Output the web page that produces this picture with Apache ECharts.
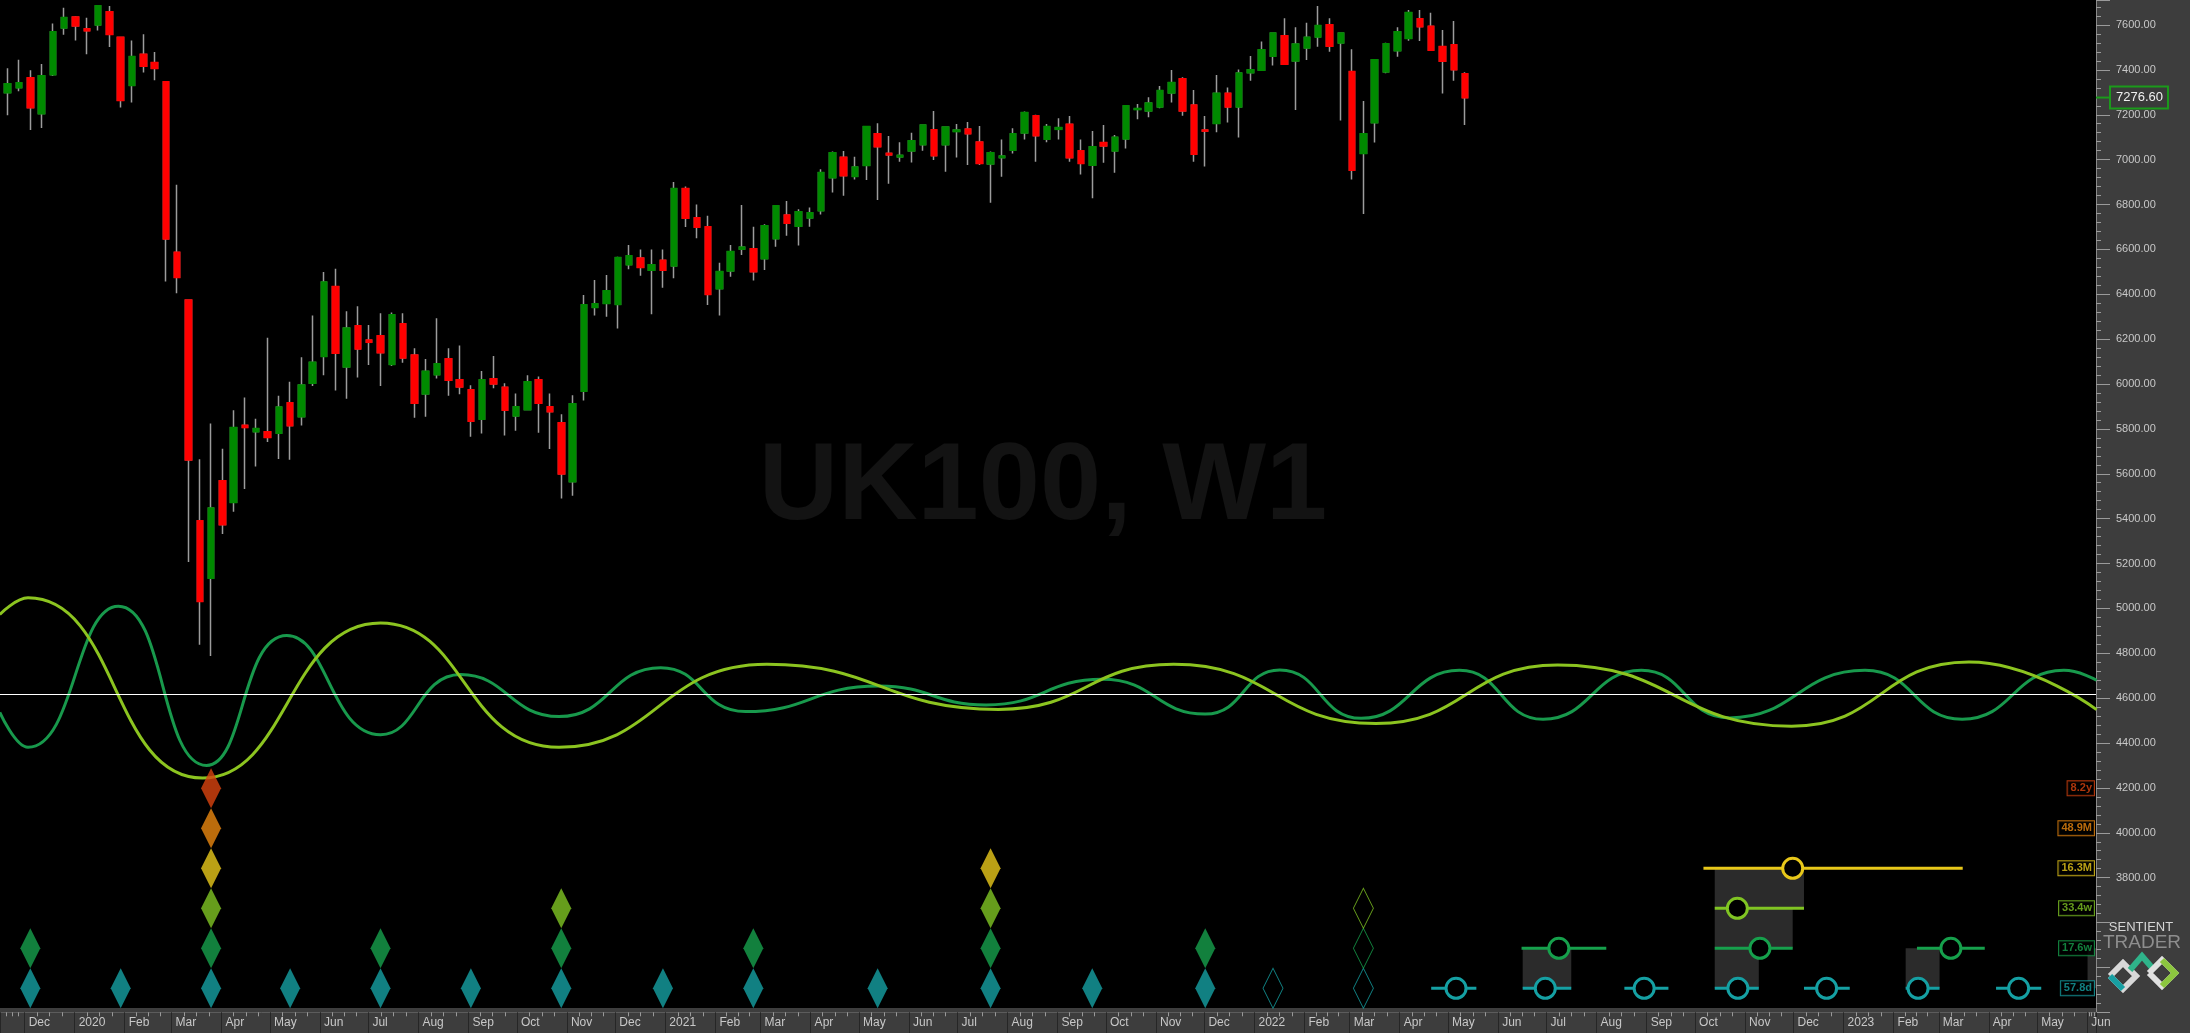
<!DOCTYPE html>
<html><head><meta charset="utf-8">
<script src="https://cdn.jsdelivr.net/npm/echarts@6/dist/echarts.min.js"></script>
<style>html,body{margin:0;padding:0;background:#000;}#c{width:2190px;height:1033px;}</style>
</head><body><div id="c"></div>
<script>
// ---------- DATA ----------
const firstWeek = [2019, 10, 17]; // first weekly bar (week starting Sun 17 Nov 2019)
const opens = [7299,7322,7364,7206,7379,7588,7635,7582,7601,7658,
7544,7331,7468,7432,7346,6586,6373,5389,5136,5568,
5473,5815,5788,5786,5782,5915,5855,6005,6124,6434,
6077,6258,6195,6214,6088,6267,6128,5957,6042,6111,
6018,5973,5844,6022,5984,5859,5886,6018,5898,5826,
5565,5969,6342,6360,6355,6533,6560,6508,6550,6527,
6870,6740,6700,6426,6505,6602,6602,6559,6648,6752,
6704,6741,6773,6920,7010,6926,6975,7114,7027,7013,
7040,7067,7132,7067,7126,7135,7077,6982,7010,7043,
7120,7194,7092,7136,7156,7038,6976,7075,7040,7093,
7224,7218,7236,7298,7359,7242,7131,7162,7295,7236,
7388,7399,7462,7551,7441,7499,7548,7600,7521,7392,
7028,7165,7392,7486,7541,7627,7593,7503,7511,7382];
const highs = [7407,7445,7398,7426,7607,7677,7639,7632,7689,7685,
7544,7531,7559,7480,7346,6888,6373,5665,5824,5712,
5883,5940,5845,6206,5948,6010,6119,6305,6499,6514,
6324,6347,6263,6315,6319,6315,6159,6111,6293,6159,
6172,5994,6058,6125,6003,5958,6039,6033,5958,5865,
5950,6397,6463,6486,6567,6620,6600,6600,6600,6900,
6880,6800,6750,6540,6620,6798,6701,6712,6798,6816,
6779,6787,6957,7036,7038,7013,7150,7162,7105,7077,
7120,7154,7217,7144,7159,7168,7150,7036,7090,7140,
7214,7200,7159,7184,7194,7090,7128,7154,7110,7243,
7248,7278,7328,7399,7367,7310,7194,7377,7322,7402,
7462,7527,7567,7630,7590,7610,7685,7630,7566,7492,
7261,7447,7521,7590,7667,7667,7655,7578,7618,7389];
const lows = [7198,7305,7132,7141,7373,7556,7531,7470,7575,7502,
7232,7255,7388,7354,6457,6404,5207,4838,4788,5332,
5431,5532,5632,5742,5666,5663,5815,5991,6039,5971,
5934,6029,6085,5991,6080,6095,5850,5854,6025,5948,
5954,5765,5780,5981,5771,5792,5884,5783,5710,5490,
5502,5926,6305,6300,6247,6511,6483,6311,6429,6471,
6700,6650,6352,6305,6478,6575,6461,6508,6612,6661,
6617,6701,6755,6853,6839,6911,6909,6820,6893,6991,
6987,7040,6998,6946,7009,6976,6976,6808,6924,7027,
7090,6991,7077,7090,6991,6934,6828,6986,6942,7050,
7180,7189,7229,7255,7196,6991,6969,7122,7165,7099,
7352,7396,7419,7425,7221,7444,7503,7481,7174,6912,
6758,7076,7385,7459,7530,7529,7484,7295,7352,7154];
const closes = [7337,7341,7232,7373,7569,7632,7597,7575,7685,7559,
7265,7459,7417,7407,6647,6476,5663,5032,5446,5374,
5805,5807,5801,5763,5896,5815,5995,6096,6453,6138,
6248,6157,6187,6140,6308,6117,5915,6056,6089,6018,
5988,5835,6018,6001,5884,5898,6009,5915,5877,5600,
5911,6352,6357,6414,6563,6571,6520,6530,6508,6870,
6740,6700,6400,6500,6590,6609,6501,6704,6793,6718,
6767,6762,6942,7030,6929,6966,7147,7058,7022,7018,
7083,7153,7018,7144,7131,7116,6984,7030,7015,7114,
7209,7107,7147,7142,7009,6984,7056,7062,7099,7239,
7227,7251,7307,7343,7218,7025,7128,7295,7236,7385,
7399,7489,7563,7426,7514,7544,7597,7506,7563,6954,
7114,7444,7515,7569,7655,7593,7489,7440,7402,7276.6];
const lastPrice = 7276.60;

// cycle waves: [week index, value]
const cycle17Weeks = [-0.7,1.8,9.8,17.6,24.7,33.0,40.1,48.8,57.8,65.3,77.1,86.6,96.9,106.0,112.6,119.8,128.5,135.9,144.6,152.4,164.4,173.0,182.0,184.9];
const cycle17Values = [4537,4381,5010,4300,4879,4437,4705,4518,4736,4540,4654,4570,4684,4529,4726,4510,4724,4506,4724,4512,4724,4506,4724,4680];
const cycle33Weeks = [-0.7,1.8,17.25,33.0,48.8,67.2,87.7,103.2,121.1,137.2,157.9,173.6,184.9];
const cycle33Values = [4973,5047,4244,4935,4381,4751,4550,4751,4487,4748,4475,4761,4549];
const baseLevel = 4618;

// cycle rows (bottom to top)
const cycleLabels = ['57.8d','17.6w','33.4w','16.3M','48.9M','8.2y'];
const cycleColors = ['#15a0a3','#16a04c','#80c423','#e8c81a','#ea870f','#d9440f'];
const troughWeeks = [
  [2,10,18,25,33,41,49,58,66,77,87,96,106],
  [2,18,33,49,66,87,106],
  [18,49,87],
  [18,87],
  [18],
  [18]
];
const pendingWeeks = [[112,120],[120],[120],[],[],[]];
// projections: [row, from week, to week, expected trough week]
const projections = [
  [0,126,130,128.2],[0,134.1,138.4,136.1],[0,143.1,147,144.85],[0,151.1,155,153.15],
  [0,159,163.05,161],[0,168,171,169.1],[0,176,180,178],
  [1,134,141.5,137.3],[1,151.1,158,155.1],[1,169,175,172],
  [2,151.1,159,153.1],
  [3,150.1,173.05,158]
];
// shaded boxes: [lower row, from week, to week]
const boxes = [[2,151.1,159],[1,151.1,158],[0,151.1,155],[0,168,171],[0,134.1,138.4],[0,184.1,190]];

// ---------- CHART ----------
const DAY = 864e5;
const base = new Date(firstWeek[0], firstWeek[1], firstWeek[2]).getTime();
const wk = i => base + (i * 7 + 3.5) * DAY;
const xMin = base - 1.27 * DAY;
const xMax = xMin + 1298.7 * DAY;
const MONTHS = ['Jan','Feb','Mar','Apr','May','Jun','Jul','Aug','Sep','Oct','Nov','Dec'];
const FONT = 'Liberation Sans, Arial, sans-serif';

const wickData = opens.map((o, i) => [wk(i), o, closes[i], lows[i], highs[i]]);
const bodyData = opens.map((o, i) => [wk(i), o, closes[i], Math.min(o, closes[i]), Math.max(o, closes[i])]);

const series = [
  {
    type: 'custom', z: 1, clip: true, xAxisIndex: 0, yAxisIndex: 1,
    data: boxes.map(b => [wk(b[1]), wk(b[2]), b[0]]),
    encode: { x: [0, 1], y: 2 },
    renderItem: (p, api) => {
      const a = api.coord([api.value(0), api.value(2) + 1]);
      const b = api.coord([api.value(1), api.value(2)]);
      return { type: 'rect', shape: { x: a[0], y: a[1], width: b[0] - a[0], height: b[1] - a[1] }, style: { fill: '#2b2b2b' } };
    }
  },
  {
    type: 'candlestick', z: 2, barWidth: 6, data: wickData,
    itemStyle: { color: '#9c9c9c', color0: '#9c9c9c', borderColor: '#9c9c9c', borderColor0: '#9c9c9c', borderWidth: 1.5 }
  },
  {
    type: 'candlestick', z: 2, barWidth: 6, data: bodyData,
    itemStyle: { color: '#008a00', color0: '#ff0000', borderColor: '#008a00', borderColor0: '#ff0000', borderWidth: 2 }
  },
  {
    type: 'line', z: 3, smooth: true, showSymbol: false, symbol: 'none',
    data: cycle17Weeks.map((w, i) => [wk(w), cycle17Values[i]]),
    lineStyle: { color: '#18994c', width: 3 },
    markLine: { silent: true, symbol: ['none', 'none'], label: { show: false },
      lineStyle: { color: '#ffffff', width: 1, type: 'solid' }, data: [{ yAxis: baseLevel }] }
  },
  {
    type: 'line', z: 3, smooth: true, showSymbol: false, symbol: 'none',
    data: cycle33Weeks.map((w, i) => [wk(w), cycle33Values[i]]),
    lineStyle: { color: '#8cc420', width: 3 }
  }
];

troughWeeks.forEach((weeks, row) => {
  series.push({
    type: 'scatter', z: 4, xAxisIndex: 0, yAxisIndex: 1, symbol: 'diamond', symbolSize: [20, 40],
    data: weeks.map(w => [wk(w), row]),
    itemStyle: { color: cycleColors[row] }, silent: true
  });
});
pendingWeeks.forEach((weeks, row) => {
  if (!weeks.length) return;
  series.push({
    type: 'scatter', z: 4, xAxisIndex: 0, yAxisIndex: 1, symbol: 'diamond', symbolSize: [20, 40],
    data: weeks.map(w => [wk(w), row]),
    itemStyle: { color: 'rgba(0,0,0,0)', borderColor: cycleColors[row], borderWidth: 1 }, silent: true
  });
});
series.push({
  type: 'custom', z: 5, clip: true, xAxisIndex: 0, yAxisIndex: 1,
  data: projections.map(p => [wk(p[1]), wk(p[2]), wk(p[3]), p[0]]),
  encode: { x: [0, 1, 2], y: 3 },
  renderItem: (p, api) => {
    const row = api.value(3);
    const a = api.coord([api.value(0), row]);
    const b = api.coord([api.value(1), row]);
    const c = api.coord([api.value(2), row]);
    const col = cycleColors[row];
    return { type: 'group', children: [
      { type: 'line', shape: { x1: a[0], y1: a[1], x2: b[0], y2: b[1] }, style: { stroke: col, lineWidth: 3 } },
      { type: 'circle', shape: { cx: c[0], cy: c[1], r: 10 }, style: { fill: '#000', stroke: col, lineWidth: 3 } }
    ] };
  }
});
series.push({
  type: 'scatter', z: 6, xAxisIndex: 0, yAxisIndex: 1, symbolSize: 0, clip: false, silent: true,
  data: cycleLabels.map((t, row) => ({ value: [xMax, row],
    label: { show: true, position: 'left', distance: 2, formatter: t, color: cycleColors[row],
      borderColor: cycleColors[row], borderWidth: 1, backgroundColor: '#000',
      padding: [2, 2, 1, 3], fontSize: 11, fontWeight: 'bold', fontFamily: FONT } }))
});

const chart = echarts.init(document.getElementById('c'));
const option = {
  animation: false,
  backgroundColor: '#000',
  grid: { left: 0, right: 94, top: 0, bottom: 20.7, containLabel: false },
  xAxis: [{
    type: 'time', min: xMin, max: xMax, splitNumber: 43,
    minInterval: 28 * DAY, maxInterval: 31 * DAY,
    axisLine: { show: true, onZero: false, lineStyle: { color: '#5c5c5c', width: 1 } },
    axisTick: { show: true, length: 21, lineStyle: { color: '#262626', width: 1 } },
    minorTick: { show: true, splitNumber: 4, length: 4, lineStyle: { color: '#9a9a9a' } },
    splitLine: { show: false },
    axisLabel: {
      color: '#c8c8c8', fontSize: 12, fontFamily: FONT, align: 'left', margin: 4, padding: [0, 0, 0, 4],
      hideOverlap: false,
      formatter: v => { const d = new Date(v); return d.getMonth() === 0 ? String(d.getFullYear()) : MONTHS[d.getMonth()]; }
    }
  }],
  yAxis: [{
    type: 'value', position: 'right', min: 3200, max: 7711.4, interval: 200, scale: true,
    axisLine: { show: true, lineStyle: { color: '#8a8a8a' } },
    axisTick: { show: true, length: 14, lineStyle: { color: '#9a9a9a' } },
    minorTick: { show: true, splitNumber: 5, length: 5, lineStyle: { color: '#9a9a9a' } },
    splitLine: { show: false },
    axisLabel: { color: '#c8c8c8', fontSize: 11, fontFamily: FONT, margin: 20, showMaxLabel: false,
      formatter: v => (v >= 3800 && Math.abs(v % 200) < 1e-6) ? v.toFixed(2) : '' }
  }, {
    type: 'value', show: false, min: -0.6, max: 24.7075
  }],
  graphic: { elements: [
    { type: 'rect', z: -1, shape: { x: 0, y: 1008, width: 2190, height: 25 }, style: { fill: '#3d3d3d' } },
    { type: 'rect', z: -1, shape: { x: 2096, y: 0, width: 94, height: 1033 }, style: { fill: '#3d3d3d' } },
    { type: 'text', z: -1, style: { text: 'UK100, W1', x: 1043, y: 489, fill: '#131313',
      font: 'bold 110px ' + FONT, textAlign: 'center', textVerticalAlign: 'middle', align: 'center', verticalAlign: 'middle' } },
    { type: 'text', z: 10, style: { text: 'SENTIENT', x: 2141, y: 927, fill: '#d6d6d6',
      font: '13px ' + FONT, textAlign: 'center', textVerticalAlign: 'middle', align: 'center', verticalAlign: 'middle' } },
    { type: 'text', z: 10, style: { text: 'TRADER', x: 2142, y: 943, fill: '#8e8e8e',
      font: '19px ' + FONT, textAlign: 'center', textVerticalAlign: 'middle', align: 'center', verticalAlign: 'middle' } },
    { type: 'polyline', z: 10, shape: { points: [[2110,976],[2123,963],[2136,976],[2123,989],[2110,976]] }, style: { stroke: '#d8d8d8', lineWidth: 6, fill: 'none' } },
    { type: 'polyline', z: 10, shape: { points: [[2110,976],[2123,989]] }, style: { stroke: '#17a0a3', lineWidth: 6 } },
    { type: 'polyline', z: 10, shape: { points: [[2130,970],[2142,956],[2154,970]] }, style: { stroke: '#2fb38a', lineWidth: 6, fill: 'none' } },
    { type: 'polyline', z: 10, shape: { points: [[2149,973],[2162,960],[2175,973],[2162,986],[2149,973]] }, style: { stroke: '#e0e0e0', lineWidth: 6, fill: 'none' } },
    { type: 'polyline', z: 10, shape: { points: [[2162,960],[2175,973],[2162,986]] }, style: { stroke: '#8cc63f', lineWidth: 6, fill: 'none' } }
  ] },
  series: series
};
chart.setOption(option);
// last-price tag on the price axis, placed from the axis scale
const py = chart.convertToPixel({ yAxisIndex: 0 }, lastPrice);
const px = chart.convertToPixel({ xAxisIndex: 0 }, xMax);
option.graphic.elements.push(
  { type: 'line', z: 10, shape: { x1: px, y1: py, x2: px + 15, y2: py }, style: { stroke: '#1b9a1b', lineWidth: 2 } },
  { type: 'text', z: 11, style: { text: lastPrice.toFixed(2), x: px + 15, y: py, fill: '#f0f0f0',
    font: '13px ' + FONT, verticalAlign: 'middle', textVerticalAlign: 'middle', align: 'left', textAlign: 'left',
    backgroundColor: '#3a3a3a', borderColor: '#1b9a1b', borderWidth: 2, padding: [4, 4, 3, 5] } }
);
chart.setOption({ graphic: option.graphic });
</script>
</body></html>
